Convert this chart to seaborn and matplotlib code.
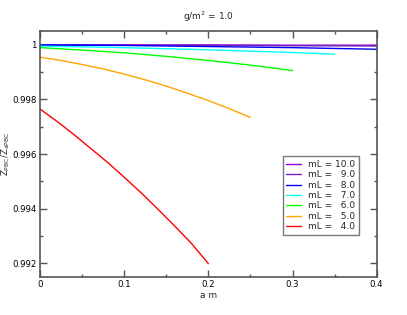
import numpy as np
import pandas as pd
import matplotlib
matplotlib.use('Agg')
import matplotlib.pyplot as plt
import seaborn as sns
from matplotlib.ticker import MultipleLocator, FuncFormatter

# data
x_m4 = [0.0, 0.02, 0.04, 0.06, 0.08, 0.10, 0.12, 0.14, 0.16, 0.18, 0.20]
z_m4 = [0.99765, 0.99720, 0.99672, 0.99621, 0.99570, 0.99515, 0.99458, 0.99398, 0.99336, 0.99272, 0.99198]

x_m5 = [0.0, 0.025, 0.05, 0.075, 0.10, 0.125, 0.15, 0.175, 0.20, 0.225, 0.25]
z_m5 = [0.99955, 0.99943, 0.99928, 0.99912, 0.99893, 0.99872, 0.99849, 0.99823, 0.99796, 0.99766, 0.99734]

x_m6 = [0.0, 0.05, 0.10, 0.15, 0.20, 0.25, 0.30]
z_m6 = [0.99990, 0.99981, 0.99971, 0.99958, 0.99943, 0.99926, 0.99906]

x_m7 = [0.0, 0.05, 0.10, 0.15, 0.20, 0.25, 0.30, 0.35]
z_m7 = [0.99995, 0.99993, 0.99990, 0.99986, 0.99982, 0.99977, 0.99972, 0.99966]

x_m8 = [0.0, 0.05, 0.10, 0.15, 0.20, 0.25, 0.30, 0.35, 0.40]
z_m8 = [1.00000, 0.99999, 0.99998, 0.99996, 0.99994, 0.99992, 0.99990, 0.99987, 0.99984]

x_m9 = [0.0, 0.10, 0.20, 0.30, 0.40]
z_m9 = [1.00000, 0.99999, 0.99998, 0.99997, 0.99996]

x_m10 = [0.0, 0.10, 0.20, 0.30, 0.40]
z_m10 = [1.00000, 1.00000, 1.00000, 0.99999, 0.99999]

labels = ['mL = 10.0', 'mL =   9.0', 'mL =   8.0', 'mL =   7.0', 'mL =   6.0', 'mL =   5.0', 'mL =   4.0']
colors = ['#9400d3', '#7221bc', '#0000ff', '#00ffff', '#00ff00', '#ffa500', '#ff0000']
series = [(x_m10, z_m10), (x_m9, z_m9), (x_m8, z_m8), (x_m7, z_m7),
          (x_m6, z_m6), (x_m5, z_m5), (x_m4, z_m4)]

sns.set_style('ticks')
plt.rcParams['font.family'] = ['DejaVu Sans']

fig = plt.figure(figsize=(4.07, 3.15), dpi=100)
ax = fig.add_axes([0.0983, 0.1206, 0.8272, 0.781])

for (xs, zs), lab, col in zip(series, labels, colors):
    df = pd.DataFrame({'a m': xs, 'Z': zs})
    sns.lineplot(data=df, x='a m', y='Z', ax=ax, color=col, label=lab, linewidth=1.0)

ax.set_xlim(0, 0.4)
ax.set_ylim(0.99149, 1.00051)
ax.xaxis.set_major_locator(MultipleLocator(0.1))
ax.xaxis.set_minor_locator(MultipleLocator(0.05))
ax.yaxis.set_major_locator(MultipleLocator(0.002))
ax.yaxis.set_minor_locator(MultipleLocator(0.001))
ax.xaxis.set_major_formatter(FuncFormatter(lambda v, p: '%g' % round(v, 4)))
ax.yaxis.set_major_formatter(FuncFormatter(lambda v, p: '%g' % round(v, 4)))
ax.tick_params(which='both', direction='in', top=True, right=True, labelsize=6.2, colors='#555555', labelcolor='black')
ax.tick_params(which='major', length=5, width=1, pad=2.5)
ax.tick_params(which='minor', length=2.5, width=1)
for s in ax.spines.values():
    s.set_color('#555555')
    s.set_linewidth(1.2)

ax.set_xlabel('a m', fontsize=6.5, labelpad=1)
ax.set_ylabel(r'Z$_{\mathregular{PBC}}$/Z$_{\mathregular{aPBC}}$', fontsize=6.2)
ax.yaxis.set_label_coords(-0.082, 0.5)
ax.set_title(r'g/m$^{\mathregular{2}}$ = 1.0', fontsize=6.5, pad=8)

leg = ax.legend(loc='upper left', bbox_to_anchor=(0.721, 0.49), fontsize=6.5, frameon=True,
                fancybox=False, handlelength=1.6, labelspacing=0.15, borderpad=0.4,
                handletextpad=0.8, borderaxespad=0)
leg.get_frame().set_edgecolor('#555555')
leg.get_frame().set_linewidth(1.0)

fig.savefig('out.png', dpi=100)
